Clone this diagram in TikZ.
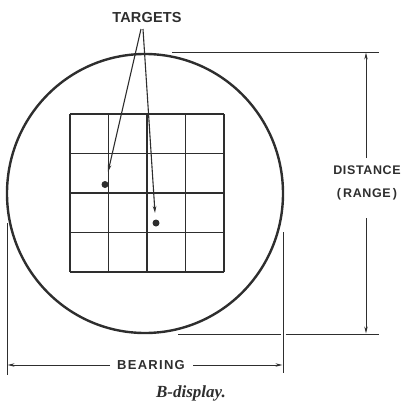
\documentclass[tikz,border=0pt]{standalone}
\usepackage{fontspec}
\setmainfont{Liberation Serif}
\usetikzlibrary{arrows.meta}
\newfontfamily\labfont[LetterSpace=5]{Liberation Sans}
\newfontfamily\bearfont[LetterSpace=10]{Liberation Sans}
\newfontfamily\tgtfont[LetterSpace=1]{Liberation Sans}
\definecolor{ink}{HTML}{2E2E2E}
\tikzset{
  ink/.style={draw=ink},
  scope line/.style={ink, line width=2.4pt},
  gridline/.style={ink, line width=1.5pt},
  dimline/.style={ink, line width=0.9pt},
  dimarrow/.style={dimline, -{Stealth[length=7pt,width=3.4pt]}},
  tgtarrow/.style={ink, line width=1.1pt, -{Stealth[length=7pt,width=3.6pt]}},
  dot/.style={circle, fill=ink, inner sep=0pt, minimum size=7pt},
  label/.style={text=ink, inner sep=1pt},
}
\begin{document}
\begin{tikzpicture}[x=1pt,y=-1pt]
\useasboundingbox (0,0) rectangle (405,405);
% screen
\draw[scope line] (145,193.5) ellipse [x radius=138, y radius=139.5];
% grid
\foreach \gx in {70,108.5,147,185.5,224} \draw[gridline] (\gx,114) -- (\gx,272);
\foreach \gy in {114,153.5,193,232.5,272} \draw[gridline] (70,\gy) -- (224,\gy);
% targets
\node[dot] (dotA) at (105,184.5) {};
\node[dot] (dotB) at (156,223) {};
\node[label, font=\tgtfont\bfseries\fontsize{14.5}{16}\selectfont] (targets) at (147,17.5) {TARGETS};
\coordinate (t1) at (141,29);
\coordinate (t2) at (143,29);
\coordinate (a1) at (108,172);
\coordinate (a2) at (155,213);
\draw[tgtarrow] (t1) -- (a1);
\draw[tgtarrow] (t2) -- (a2);
% distance dimension
\coordinate (extT1) at (172,52);
\coordinate (extT2) at (379,52);
\coordinate (extB1) at (178,334);
\coordinate (extB2) at (280.5,334);
\coordinate (extB3) at (285.5,334);
\coordinate (extB4) at (379,334);
\draw[dimline] (extT1) -- (extT2);
\draw[dimline] (extB1) -- (extB2);
\draw[dimline] (extB3) -- (extB4);
\coordinate (dtop) at (366,52.5);
\coordinate (dbot) at (366,333.5);
\coordinate (dA) at (366,158);
\coordinate (dB) at (366,218);
\draw[dimarrow] (dA) -- (dtop);
\draw[dimarrow] (dB) -- (dbot);
\node[label, font=\labfont\bfseries\fontsize{12.5}{23}\selectfont, align=center] (distance) at (367,182.5) {DISTANCE\\(\,RANGE\,)};
% bearing dimension
\coordinate (extL1) at (7,223);
\coordinate (extL2) at (7,375);
\coordinate (extR1) at (283,232);
\coordinate (extR2) at (283,373);
\draw[dimline] (extL1) -- (extL2);
\draw[dimline] (extR1) -- (extR2);
\coordinate (bl) at (7.5,365);
\coordinate (br) at (282.5,365);
\coordinate (bA) at (110,365);
\coordinate (bB) at (193,365);
\draw[dimarrow] (bA) -- (bl);
\draw[dimarrow] (bB) -- (br);
\node[label, font=\bearfont\bfseries\fontsize{13}{14}\selectfont] (bearing) at (151,365) {BEARING};
% caption
\node[label, font=\bfseries\itshape\fontsize{17}{19}\selectfont] (caption) at (191,393) {B-display.};
\end{tikzpicture}
\end{document}
